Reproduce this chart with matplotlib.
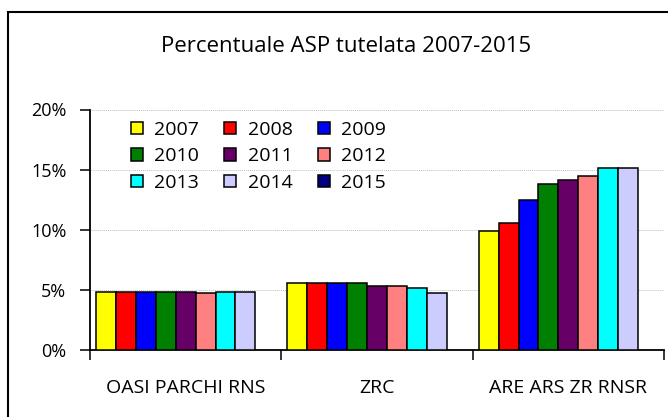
import numpy as np
import matplotlib
matplotlib.use("Agg")
import matplotlib.pyplot as plt
from matplotlib.patches import Rectangle, Patch
from matplotlib.ticker import FixedLocator, NullFormatter

plt.rcParams['font.family'] = ['Open Sans', 'DejaVu Sans']

# dati (percentuali), 2015 assente
categorie = ['OASI PARCHI RNS', 'ZRC', 'ARE ARS ZR RNSR']
anni = ['2007', '2008', '2009', '2010', '2011', '2012', '2013', '2014', '2015']
oasi = [4.8, 4.8, 4.8, 4.8, 4.8, 4.7, 4.8, 4.8, np.nan]
zrc = [5.6, 5.6, 5.6, 5.6, 5.3, 5.3, 5.15, 4.7, np.nan]
are = [9.9, 10.6, 12.5, 13.8, 14.1, 14.5, 15.1, 15.1, np.nan]
colori = ['#FFFF00', '#FF0000', '#0000FF', '#008000', '#660066',
          '#FF8080', '#00FFFF', '#CCCCFF', '#000080']

valori = np.array([oasi, zrc, are])  # righe = categorie, colonne = anni

fig = plt.figure(figsize=(6.68, 4.17), dpi=100)
ax = fig.add_axes([90/668, 1-350/417, 574/668, 240.5/417])

n = len(anni)
w = 0.104
x = np.arange(len(categorie))
for i in range(n):
    ax.bar(x + (i - (n-1)/2)*w, valori[:, i], width=w, color=colori[i],
           edgecolor='black', linewidth=1.1, zorder=3)

ax.set_xlim(-0.5, len(categorie) - 0.5)
ax.set_ylim(0, 20)
ax.set_yticks([0, 5, 10, 15, 20])
ax.set_yticklabels(['0%', '5%', '10%', '15%', '20%'], fontsize=13)
ax.yaxis.grid(True, color='#c0c0c0', linestyle=(0, (1, 1)), linewidth=0.7, zorder=0)

# tick ai confini delle categorie, etichette al centro
ax.xaxis.set_major_locator(FixedLocator([-0.5, 0.5, 1.5, 2.5]))
ax.xaxis.set_major_formatter(NullFormatter())
ax.xaxis.set_minor_locator(FixedLocator(x))
ax.set_xticklabels(categorie, minor=True, fontsize=14)
ax.tick_params(axis='x', which='minor', length=0, pad=21)
ax.tick_params(axis='x', which='major', length=7, width=1.1, direction='out')
ax.tick_params(axis='y', length=7, width=1.1, direction='out', pad=10)

for s in ['top', 'right']:
    ax.spines[s].set_visible(False)
for s in ['left', 'bottom']:
    ax.spines[s].set_linewidth(1.3)

# legenda 3x3 riempita per righe
handles = [Patch(facecolor=colori[i], edgecolor='black', linewidth=1.1) for i in range(n)]
ordine = [0, 3, 6, 1, 4, 7, 2, 5, 8]
ax.legend([handles[i] for i in ordine], [anni[i] for i in ordine], ncol=3,
          loc='upper left', bbox_to_anchor=(131/668, 1-121/417),
          bbox_transform=fig.transFigure, frameon=False, fontsize=14,
          handlelength=0.6, handleheight=0.6, handletextpad=0.6,
          columnspacing=1.3, labelspacing=0.43, borderpad=0, borderaxespad=0)

fig.text(346/668, 1-47/417, 'Percentuale ASP tutelata 2007-2015',
         ha='center', va='center', fontsize=16)

# bordo dell'area del grafico (tagliato a destra e in basso)
fig.patches.append(Rectangle((8/668, -0.1), 1.2, 1.1 - 12/417, transform=fig.transFigure,
                             fill=False, edgecolor='black', linewidth=1.5))

fig.savefig('out.png', dpi=100)
